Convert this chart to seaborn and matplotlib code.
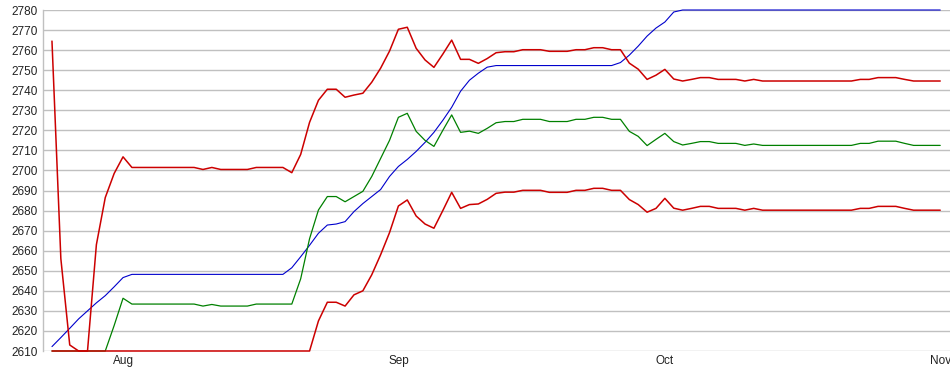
import seaborn as sns
import pandas as pd
import matplotlib.pyplot as plt
import matplotlib.dates as mdates
import numpy as np

# daily points, Jul 24 .. Nov 1
dates = pd.date_range('2013-07-24', '2013-11-01', freq='D')

blue = [2612.2, 2616.7, 2621.3, 2626, 2630, 2634, 2637.6, 2642, 2646.6, 2648.2,
        2648.2, 2648.2, 2648.2, 2648.2, 2648.2, 2648.2, 2648.2, 2648.2, 2648.2, 2648.2,
        2648.2, 2648.2, 2648.2, 2648.2, 2648.2, 2648.2, 2648.2, 2651.5, 2657, 2662.7,
        2668.7, 2672.8, 2673.3, 2674.5, 2679.5, 2683.5, 2687, 2690.5, 2697, 2702,
        2705.5, 2709.5, 2714, 2719, 2725, 2731.5, 2739.5, 2745, 2748.5, 2751.5,
        2752.3, 2752.3, 2752.3, 2752.3, 2752.3, 2752.3, 2752.3, 2752.3, 2752.3, 2752.3,
        2752.3, 2752.3, 2752.3, 2752.3, 2753.8, 2757.5, 2762, 2767, 2771, 2774,
        2779, 2780, 2780, 2780, 2780, 2780, 2780, 2780, 2780, 2780,
        2780, 2780, 2780, 2780, 2780, 2780, 2780, 2780, 2780, 2780,
        2780, 2780, 2780, 2780, 2780, 2780, 2780, 2780, 2780, 2780, 2780]

green = [2610, 2610, 2610, 2610, 2610, 2610, 2610, 2622.7, 2636.3, 2633.4,
         2633.4, 2633.4, 2633.4, 2633.4, 2633.4, 2633.4, 2633.4, 2632.4, 2633.2, 2632.4,
         2632.4, 2632.4, 2632.4, 2633.4, 2633.4, 2633.4, 2633.4, 2633.4, 2646, 2666,
         2680.3, 2687, 2687, 2684.4, 2687, 2689.6, 2697, 2706, 2715, 2726.5,
         2728.5, 2719.5, 2715, 2712, 2720, 2727.7, 2719, 2719.6, 2718.5, 2721,
         2723.8, 2724.4, 2724.4, 2725.5, 2725.5, 2725.5, 2724.4, 2724.4, 2724.4, 2725.5,
         2725.5, 2726.5, 2726.5, 2725.5, 2725.5, 2719.5, 2717, 2712.4, 2715.5, 2718.5,
         2714.4, 2712.7, 2713.5, 2714.4, 2714.4, 2713.5, 2713.5, 2713.5, 2712.5, 2713.2,
         2712.5, 2712.5, 2712.5, 2712.5, 2712.5, 2712.5, 2712.5, 2712.5, 2712.5, 2712.5,
         2712.5, 2713.5, 2713.5, 2714.6, 2714.6, 2714.6, 2713.5, 2712.5, 2712.5, 2712.5, 2712.5]

upper = [2764.5, 2656, 2613, 2610, 2610, 2663, 2686.5, 2698.5, 2706.8, 2701.5,
         2701.5, 2701.5, 2701.5, 2701.5, 2701.5, 2701.5, 2701.5, 2700.5, 2701.5, 2700.5,
         2700.5, 2700.5, 2700.5, 2701.5, 2701.5, 2701.5, 2701.5, 2698.9, 2708, 2724,
         2735, 2740.5, 2740.5, 2736.5, 2737.6, 2738.5, 2744, 2751, 2759.5, 2770.4,
         2771.4, 2760.9, 2755.1, 2751.4, 2758, 2765, 2755.4, 2755.4, 2753.4, 2755.8,
         2758.7, 2759.2, 2759.2, 2760.2, 2760.2, 2760.2, 2759.4, 2759.4, 2759.4, 2760.2,
         2760.2, 2761.2, 2761.2, 2760.2, 2760.2, 2753.5, 2750.5, 2745.4, 2747.5, 2750.4,
         2745.6, 2744.6, 2745.4, 2746.3, 2746.3, 2745.4, 2745.4, 2745.4, 2744.6, 2745.4,
         2744.6, 2744.6, 2744.6, 2744.6, 2744.6, 2744.6, 2744.6, 2744.6, 2744.6, 2744.6,
         2744.6, 2745.4, 2745.4, 2746.3, 2746.3, 2746.3, 2745.4, 2744.6, 2744.6, 2744.6, 2744.6]

lower = [2610, 2610, 2610, 2610, 2610, 2610, 2610, 2610, 2610, 2610,
         2610, 2610, 2610, 2610, 2610, 2610, 2610, 2610, 2610, 2610,
         2610, 2610, 2610, 2610, 2610, 2610, 2610, 2610, 2610, 2610,
         2625, 2634.3, 2634.3, 2632.4, 2638, 2640, 2648, 2658, 2669, 2682.3,
         2685.3, 2677.3, 2673.3, 2671.2, 2680, 2689.1, 2681.1, 2683, 2683.3, 2685.6,
         2688.6, 2689.2, 2689.2, 2690.1, 2690.1, 2690.1, 2689.1, 2689.1, 2689.1, 2690.1,
         2690.1, 2691.1, 2691.1, 2690.1, 2690.1, 2685.5, 2683, 2679.2, 2681.1, 2686.1,
         2681.2, 2680.2, 2681.1, 2682.1, 2682.1, 2681.1, 2681.1, 2681.1, 2680.2, 2681.1,
         2680.2, 2680.2, 2680.2, 2680.2, 2680.2, 2680.2, 2680.2, 2680.2, 2680.2, 2680.2,
         2680.2, 2681.1, 2681.1, 2682.1, 2682.1, 2682.1, 2681.1, 2680.2, 2680.2, 2680.2, 2680.2]

y_ticks = list(range(2610, 2781, 10))
month_ticks = pd.to_datetime(['2013-08-01', '2013-09-01', '2013-10-01', '2013-11-01'])
month_labels = ['Aug', 'Sep', 'Oct', 'Nov']

sns.set_style('white')
plt.rcParams['font.family'] = ['Liberation Sans', 'DejaVu Sans']

fig = plt.figure(figsize=(9.5, 3.75), dpi=100)
ax = fig.add_axes([43 / 950, 1 - 351 / 375, 1 - 43 / 950, 341 / 375])

for vals, col, lw in [(blue, '#0000cc', 0.8), (green, '#008000', 0.9),
                      (upper, '#cc0000', 1.1), (lower, '#cc0000', 1.1)]:
    sns.lineplot(x=dates, y=vals, color=col, linewidth=lw, ax=ax, clip_on=False)

ax.set_ylim(2610, 2780)
ax.set_xlim(dates[0] - pd.Timedelta(days=1.01), dates[-1] + pd.Timedelta(days=1.1))
ax.set_yticks(y_ticks)
ax.set_xticks(month_ticks)
ax.set_xticklabels(month_labels)
ax.yaxis.grid(True, color='#c0c0c0', linewidth=1.0)
ax.set_axisbelow(True)
for s in ['top', 'right', 'bottom']:
    ax.spines[s].set_visible(False)
ax.spines['left'].set_color('#c0c0c0')
ax.spines['left'].set_linewidth(1.0)
ax.tick_params(axis='both', length=0, labelsize=8.5, colors='#222222')
ax.tick_params(axis='y', pad=4)
ax.tick_params(axis='x', pad=3)
ax.set_xlabel('')
ax.set_ylabel('')

plt.savefig('out.png', dpi=100)
